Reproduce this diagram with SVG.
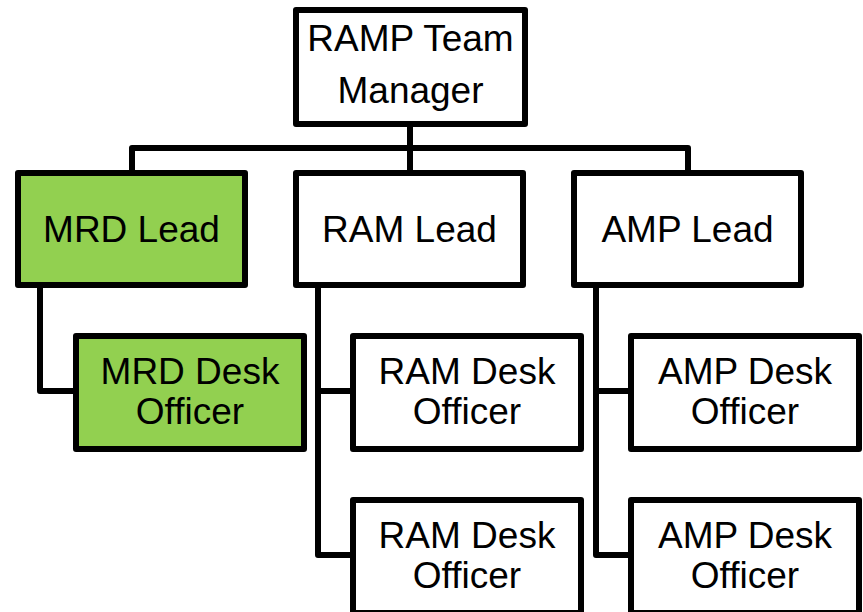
<svg xmlns="http://www.w3.org/2000/svg" width="863" height="612" viewBox="0 0 863 612">
  <style>
    .box { fill: #ffffff; stroke: #000000; stroke-width: 6; stroke-linejoin: round; }
    .box.green { fill: #92d050; }
    .lbl { font-family: "Liberation Sans", Arial, sans-serif; font-size: 37px; fill: #000000; text-anchor: middle; }
    .conn { fill: none; stroke: #000000; stroke-width: 6; stroke-linejoin: round; }
  </style>
  <rect width="863" height="612" fill="#ffffff"/>

  <g id="connectors">
    <path class="conn" d="M410 124 V173"/>
    <path class="conn" d="M132 173 V148 H688 V173"/>
    <path class="conn" d="M40 285 V391 H76"/>
    <path class="conn" d="M318 285 V555 H353 M318 391 H353"/>
    <path class="conn" d="M596 285 V555 H631 M596 391 H631"/>
  </g>

  <g id="manager">
    <rect class="box" x="296" y="10" width="229" height="114"/>
    <text class="lbl" x="410.5" y="51">RAMP Team</text>
    <text class="lbl" x="410.5" y="103">Manager</text>
  </g>

  <g id="mrd-lead">
    <rect class="box green" x="18" y="173" width="227" height="112"/>
    <text class="lbl" x="131.5" y="242">MRD Lead</text>
  </g>
  <g id="ram-lead">
    <rect class="box" x="296" y="173" width="227" height="112"/>
    <text class="lbl" x="409.5" y="242">RAM Lead</text>
  </g>
  <g id="amp-lead">
    <rect class="box" x="574" y="173" width="227" height="112"/>
    <text class="lbl" x="687.5" y="242">AMP Lead</text>
  </g>

  <g id="mrd-desk-1">
    <rect class="box green" x="76" y="336" width="228" height="113"/>
    <text class="lbl" x="190" y="384">MRD Desk</text>
    <text class="lbl" x="190" y="424">Officer</text>
  </g>
  <g id="ram-desk-1">
    <rect class="box" x="353" y="336" width="228" height="113"/>
    <text class="lbl" x="467" y="384">RAM Desk</text>
    <text class="lbl" x="467" y="424">Officer</text>
  </g>
  <g id="ram-desk-2">
    <rect class="box" x="353" y="500" width="228" height="113"/>
    <text class="lbl" x="467" y="548">RAM Desk</text>
    <text class="lbl" x="467" y="588">Officer</text>
  </g>
  <g id="amp-desk-1">
    <rect class="box" x="631" y="336" width="228" height="113"/>
    <text class="lbl" x="745" y="384">AMP Desk</text>
    <text class="lbl" x="745" y="424">Officer</text>
  </g>
  <g id="amp-desk-2">
    <rect class="box" x="631" y="500" width="228" height="113"/>
    <text class="lbl" x="745" y="548">AMP Desk</text>
    <text class="lbl" x="745" y="588">Officer</text>
  </g>
</svg>
